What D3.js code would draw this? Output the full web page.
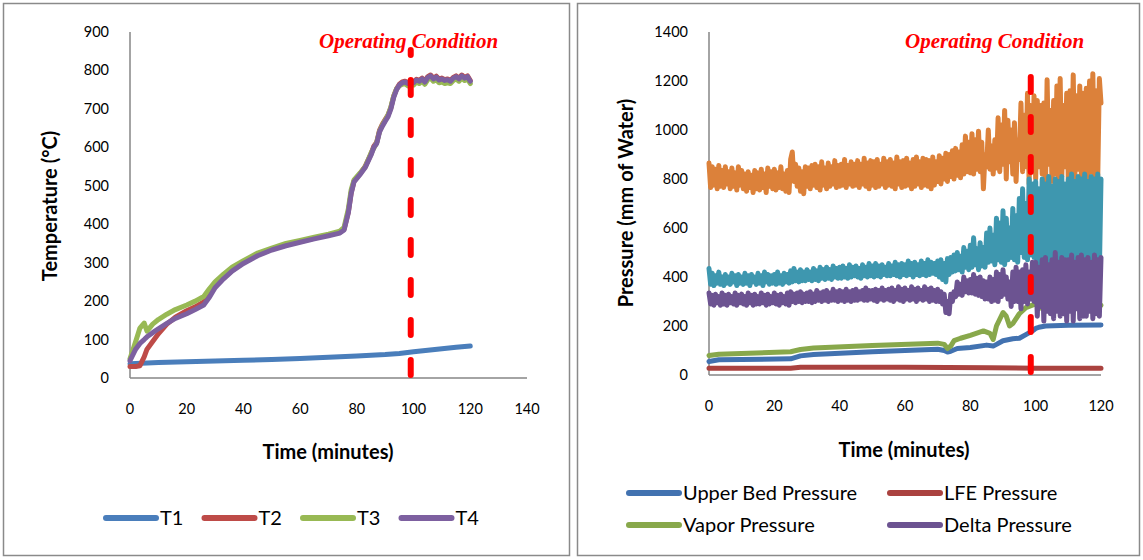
<!doctype html>
<html lang="en">
<head>
  <meta charset="UTF-8">
  <title>Temperature and Pressure</title>
  <style>
    body { margin: 0; background: #fff; }
    #app { position: relative; width: 1143px; height: 560px; }
    text { font-family: Lato, "Open Sans", sans-serif; fill: #000; }
  </style>
</head>
<body>
<div id="app"></div>
<script src="https://cdn.jsdelivr.net/npm/d3@7/dist/d3.min.js"></script>
<script>
  // ---- left chart data (temperature, °C) ----
  var tempTime = [0, 2, 3.5, 5, 6, 8, 10, 13, 16, 20, 23, 26, 28,
    30, 33, 36, 40, 45, 50, 55, 60, 65, 70, 74,
    75.5, 77, 78, 79, 81, 83, 85,
    86, 87, 88, 89, 90, 91, 92, 93, 94, 95, 96, 97, 98, 99, 100, 101, 102, 103, 104, 105,
    106, 107, 108, 109, 110, 111, 112, 113, 114, 115, 116, 117, 118, 119, 120];
  var t2Values = [30, 30, 32, 55, 75, 95, 115, 140, 158, 175, 185, 198, 215,
    238, 260, 280, 300, 320, 335, 346, 355, 364, 372, 379,
    387, 432, 482, 512, 530, 551, 583,
    603, 613, 644, 660, 672, 684, 703, 733, 752, 764, 770, 772, 768, 774, 770, 777, 774, 780, 772, 784,
    788, 780, 785, 777, 780, 776, 778, 774, 782, 786, 780, 788, 782, 786, 774];
  var t3Values = [50, 95, 130, 143, 122, 140, 152, 166, 178, 190, 200, 212, 232,
    250, 270, 288, 305, 325, 338, 350, 358, 366, 374, 382,
    392, 440, 490, 515, 532, 550, 585,
    598, 612, 642, 658, 670, 684, 705, 733, 752, 760, 764, 766, 760, 766, 762, 770, 766, 772, 764, 776,
    780, 772, 776, 768, 770, 766, 768, 766, 774, 778, 772, 780, 774, 778, 766];
  var t4Values = [45, 75, 90, 100, 107, 118, 128, 142, 155, 167, 178, 190, 210,
    235, 258, 278, 298, 318, 333, 344, 353, 362, 370, 377,
    385, 430, 480, 510, 528, 548, 580,
    600, 610, 640, 655, 668, 680, 700, 730, 750, 762, 768, 770, 766, 772, 768, 775, 772, 778, 770, 782,
    786, 778, 783, 775, 778, 774, 776, 772, 780, 784, 778, 786, 780, 784, 772];
  var t1Time = [0, 10, 20, 30, 40, 50, 60, 70, 80, 90, 95, 100, 105, 110, 115, 120];
  var t1Values = [37, 40, 42, 44, 46, 48, 51, 54, 57, 61, 64, 68, 72, 76, 80, 83];
  var tempTicksX = [0, 20, 40, 60, 80, 100, 120, 140];
  var tempTicksY = [0, 100, 200, 300, 400, 500, 600, 700, 800, 900];
  var tempNames = ['T1', 'T2', 'T3', 'T4'];

  // ---- right chart data (pressure, mm of water) ----
  var upperTime = [0, 3, 25, 28, 32, 50, 70, 72, 73, 74, 76, 80, 85, 87, 88, 90, 93, 95, 97, 99, 100, 101, 103, 110, 120];
  var upperValues = [55, 62, 66, 78, 84, 95, 105, 100, 94, 97, 108, 112, 122, 118, 125, 140, 148, 150, 165, 180, 190, 195, 200, 203, 204];
  var lfeTime = [0, 25, 28, 60, 86, 100, 120];
  var lfeValues = [28, 28, 32, 32, 30, 28, 28];
  var vaporTime = [0, 3, 25, 28, 32, 50, 70, 72, 73, 74, 75, 77, 80, 84, 86, 87, 88, 90, 91, 92, 93, 95, 97, 99, 100, 102, 105, 108, 110, 113, 116, 120];
  var vaporValues = [80, 85, 95, 104, 110, 120, 130, 125, 108, 118, 140, 150, 162, 180, 170, 145, 200, 255, 240, 200, 210, 250, 275, 285, 290, 270, 300, 265, 280, 300, 290, 285];
  // readings every half minute, 0..120 (10 per row = 5 minutes)
  var deltaValues = [
    335, 290, 325, 285, 330, 295, 320, 285, 335, 290,
    325, 285, 330, 295, 320, 290, 335, 285, 325, 295,
    330, 290, 320, 285, 335, 295, 325, 285, 330, 290,
    320, 290, 335, 295, 325, 285, 330, 290, 320, 295,
    335, 290, 325, 285, 330, 295, 320, 290, 335, 285,
    340, 300, 330, 295, 335, 300, 340, 295, 330, 300,
    335, 300, 340, 295, 330, 300, 345, 305, 335, 300,
    340, 305, 345, 300, 335, 305, 350, 305, 340, 300,
    345, 305, 340, 300, 350, 305, 340, 300, 345, 305,
    350, 305, 340, 310, 345, 305, 355, 305, 345, 310,
    345, 305, 350, 300, 345, 310, 355, 305, 345, 310,
    350, 305, 355, 300, 345, 310, 360, 305, 350, 300,
    355, 310, 345, 305, 360, 310, 350, 300, 355, 310,
    345, 305, 360, 310, 350, 300, 355, 305, 345, 300,
    350, 300, 340, 290, 330, 255, 300, 250, 330, 300,
    340, 320, 380, 330, 370, 325, 400, 340, 385, 335,
    390, 335, 410, 330, 395, 325, 400, 320, 385, 310,
    380, 310, 400, 300, 390, 305, 420, 300, 410, 320,
    430, 330, 400, 310, 380, 280, 420, 300, 440, 300,
    420, 270, 430, 300, 450, 290, 420, 310, 460, 300,
    460, 240, 440, 280, 470, 220, 480, 260, 450, 250,
    470, 230, 500, 260, 460, 240, 480, 250, 470, 220,
    470, 260, 490, 220, 460, 270, 480, 230, 490, 240,
    470, 240, 480, 260, 460, 230, 490, 250, 470, 240,
    480];
  var tealValues = [
    435, 370, 415, 365, 405, 375, 420, 370, 400, 365,
    410, 375, 400, 370, 415, 380, 405, 365, 410, 375,
    400, 370, 415, 375, 405, 365, 410, 380, 400, 370,
    415, 375, 405, 365, 420, 380, 410, 370, 405, 375,
    410, 370, 420, 375, 405, 370, 415, 380, 410, 375,
    425, 380, 435, 385, 420, 380, 430, 385, 420, 385,
    430, 390, 420, 385, 435, 390, 425, 385, 440, 395,
    430, 390, 440, 395, 430, 390, 445, 400, 435, 395,
    440, 395, 445, 400, 435, 395, 450, 400, 440, 405,
    445, 400, 435, 395, 450, 405, 440, 400, 455, 405,
    445, 400, 455, 405, 445, 400, 450, 410, 440, 405,
    455, 405, 445, 410, 460, 405, 450, 400, 455, 410,
    450, 405, 465, 410, 455, 400, 460, 410, 450, 405,
    465, 410, 455, 405, 470, 410, 460, 415, 455, 410,
    465, 400, 470, 390, 455, 380, 475, 410, 480, 420,
    490, 425, 500, 430, 485, 420, 520, 440, 505, 430,
    530, 440, 560, 450, 515, 430, 540, 445, 520, 440,
    580, 460, 600, 465, 570, 450, 640, 470, 620, 460,
    670, 450, 640, 470, 600, 480, 680, 470, 650, 460,
    720, 500, 760, 480, 700, 470, 800, 490, 780, 480,
    790, 430, 760, 450, 800, 420, 780, 440, 810, 430,
    770, 440, 800, 420, 790, 430, 810, 450, 780, 420,
    800, 440, 820, 420, 790, 410, 810, 430, 800, 440,
    820, 420, 790, 430, 810, 410, 800, 440, 820, 420,
    800];
  var orangeValues = [
    865, 765, 850, 775, 840, 760, 855, 770, 835, 765,
    850, 780, 830, 760, 845, 770, 825, 755, 850, 775,
    835, 760, 820, 750, 830, 765, 815, 745, 835, 760,
    825, 755, 840, 765, 820, 745, 845, 770, 830, 760,
    840, 755, 825, 765, 850, 760, 820, 750, 835, 745,
    880, 910, 790, 860, 770, 845, 750, 830, 740, 850,
    770, 845, 760, 855, 775, 860, 765, 850, 755, 870,
    775, 845, 760, 865, 770, 850, 780, 875, 765, 855,
    770, 860, 775, 880, 765, 855, 780, 870, 770, 860,
    775, 875, 765, 860, 780, 885, 770, 865, 760, 875,
    775, 870, 765, 880, 770, 860, 780, 885, 765, 870,
    775, 880, 770, 865, 760, 890, 780, 870, 765, 875,
    770, 885, 775, 865, 760, 880, 770, 890, 780, 870,
    765, 885, 775, 880, 770, 875, 760, 890, 775, 870,
    790, 895, 780, 885, 800, 905, 790, 900, 810, 915,
    800, 925, 815, 910, 805, 940, 820, 975, 830, 950,
    825, 985, 820, 960, 840, 995, 830, 950, 760, 900,
    850, 1000, 840, 935, 820, 960, 845, 1050, 830, 1020,
    860, 1080, 800, 1040, 870, 1000, 820, 1030, 790, 960,
    880, 1110, 830, 1060, 850, 1150, 780, 1100, 840, 1140,
    800, 1120, 850, 1100, 820, 1110, 770, 1205, 860, 1080,
    790, 1120, 820, 1180, 800, 1210, 810, 1100, 850, 1150,
    790, 1160, 830, 1225, 800, 1140, 840, 1180, 790, 1150,
    820, 1170, 800, 1200, 830, 1230, 810, 1160, 800, 1210,
    1110];
  var pressTicksX = [0, 20, 40, 60, 80, 100, 120];
  var pressTicksY = [0, 200, 400, 600, 800, 1000, 1200, 1400];
  var pressNames = ['Upper Bed Pressure', 'LFE Pressure', 'Vapor Pressure', 'Delta Pressure'];

  var operatingLeft = 99;
  var operatingRight = 98.5;

  var colors = {
    blue: '#4a7ebb', red: '#be4b48', green: '#98b954', purple: '#7d60a0',
    pBlue: '#4272b0', pRed: '#aa423f', pGreen: '#88a84b', pPurple: '#6c5391',
    teal: '#3e97af', orange: '#dc813a'
  };

  var svg = d3.select('#app')
    .append('svg')
    .attr('width', 1143)
    .attr('height', 560);

  // panel frames
  svg.append('rect').attr('x', 3.5).attr('y', 3.5).attr('width', 566).attr('height', 552)
    .attr('fill', 'none').attr('stroke', '#8a8a8a').attr('stroke-width', 1.5);
  svg.append('rect').attr('x', 577.5).attr('y', 3.5).attr('width', 562).attr('height', 552)
    .attr('fill', 'none').attr('stroke', '#8a8a8a').attr('stroke-width', 1.5);

  function zip(xs, ys) {
    return xs.map(function(x, i) { return [x, ys[i]]; });
  }

  function drawFrame(x, y, ticksX, ticksY) {
    var x0 = x.range()[0], x1 = x.range()[1], y0 = y.range()[0], y1 = y.range()[1];
    svg.append('line').attr('x1', x0).attr('x2', x0).attr('y1', y1).attr('y2', y0)
      .attr('stroke', '#868686').attr('stroke-width', 1.5);
    svg.append('line').attr('x1', x0).attr('x2', x1).attr('y1', y0).attr('y2', y0)
      .attr('stroke', '#868686').attr('stroke-width', 1.5);
    svg.selectAll(null).data(ticksX).enter().append('text')
      .attr('x', d => x(d)).attr('y', y0 + 36)
      .attr('text-anchor', 'middle')
      .style('font-size', '14.5px')
      .text(d => d);
    svg.selectAll(null).data(ticksY).enter().append('text')
      .attr('x', x0 - 21).attr('y', d => y(d) + 5)
      .attr('text-anchor', 'end')
      .style('font-size', '14.5px')
      .text(d => d);
  }

  function drawLine(x, y, pts, color) {
    var line = d3.line().x(d => x(d[0])).y(d => y(d[1]));
    svg.append('path')
      .datum(pts)
      .attr('d', line)
      .attr('fill', 'none')
      .attr('stroke', color)
      .attr('stroke-width', 5)
      .attr('stroke-linejoin', 'round')
      .attr('stroke-linecap', 'round');
  }

  function drawOperating(x, y, t, labelX, top) {
    svg.append('text')
      .attr('x', labelX).attr('y', 48)
      .style('font-family', '"Liberation Serif", "Times New Roman", serif')
      .style('font-weight', 'bold').style('font-style', 'italic')
      .style('font-size', '21px').style('fill', '#ff0000')
      .text('Operating Condition');
    svg.append('line')
      .attr('x1', x(t)).attr('x2', x(t))
      .attr('y1', y.range()[0] - 3).attr('y2', top)
      .attr('stroke', '#ff0000').attr('stroke-width', 6)
      .attr('stroke-dasharray', '15 25').attr('stroke-linecap', 'round');
  }

  function drawLegendItem(lx, ly, color, label) {
    svg.append('line').attr('x1', lx).attr('x2', lx + 50).attr('y1', ly).attr('y2', ly)
      .attr('stroke', color).attr('stroke-width', 6).attr('stroke-linecap', 'round');
    svg.append('text').attr('x', lx + 54).attr('y', ly + 7)
      .style('font-size', '20px').text(label);
  }

  // ---------- left: temperature ----------
  var xT = d3.scaleLinear().domain([0, 140]).range([130, 527]);
  var yT = d3.scaleLinear().domain([0, 900]).range([378, 32]);
  drawFrame(xT, yT, tempTicksX, tempTicksY);

  drawLine(xT, yT, zip(t1Time, t1Values), colors.blue);
  drawLine(xT, yT, zip(tempTime, t2Values), colors.red);
  drawLine(xT, yT, zip(tempTime, t3Values), colors.green);
  drawLine(xT, yT, zip(tempTime, t4Values), colors.purple);

  drawOperating(xT, yT, operatingLeft, 319, 50);

  svg.append('text')
    .attr('transform', 'translate(57,206) rotate(-90)')
    .attr('text-anchor', 'middle')
    .style('font-weight', 'bold').style('font-size', '20px')
    .text('Temperature (°C)');
  svg.append('text')
    .attr('x', 328).attr('y', 459)
    .attr('text-anchor', 'middle')
    .style('font-weight', 'bold').style('font-size', '20px')
    .text('Time (minutes)');

  var tempColors = [colors.blue, colors.red, colors.green, colors.purple];
  tempNames.forEach(function(n, i) {
    drawLegendItem(106 + i * 98.5, 518, tempColors[i], n);
  });

  // ---------- right: pressure ----------
  var xP = d3.scaleLinear().domain([0, 120]).range([709, 1101]);
  var yP = d3.scaleLinear().domain([0, 1400]).range([375, 32]);
  drawFrame(xP, yP, pressTicksX, pressTicksY);

  var halfMinutes = orangeValues.map((d, i) => i / 2);
  drawLine(xP, yP, zip(halfMinutes, orangeValues), colors.orange);
  drawLine(xP, yP, zip(halfMinutes, tealValues), colors.teal);
  drawLine(xP, yP, zip(upperTime, upperValues), colors.pBlue);
  drawLine(xP, yP, zip(lfeTime, lfeValues), colors.pRed);
  drawLine(xP, yP, zip(vaporTime, vaporValues), colors.pGreen);
  drawLine(xP, yP, zip(halfMinutes, deltaValues), colors.pPurple);

  drawOperating(xP, yP, operatingRight, 905, 77);

  svg.append('text')
    .attr('transform', 'translate(633,203) rotate(-90)')
    .attr('text-anchor', 'middle')
    .style('font-weight', 'bold').style('font-size', '20px')
    .text('Pressure (mm of Water)');
  svg.append('text')
    .attr('x', 904).attr('y', 457)
    .attr('text-anchor', 'middle')
    .style('font-weight', 'bold').style('font-size', '20px')
    .text('Time (minutes)');

  var pressColors = [colors.pBlue, colors.pRed, colors.pGreen, colors.pPurple];
  pressNames.forEach(function(n, i) {
    drawLegendItem(629 + (i % 2) * 261, 493 + Math.floor(i / 2) * 32, pressColors[i], n);
  });
</script>
</body>
</html>
